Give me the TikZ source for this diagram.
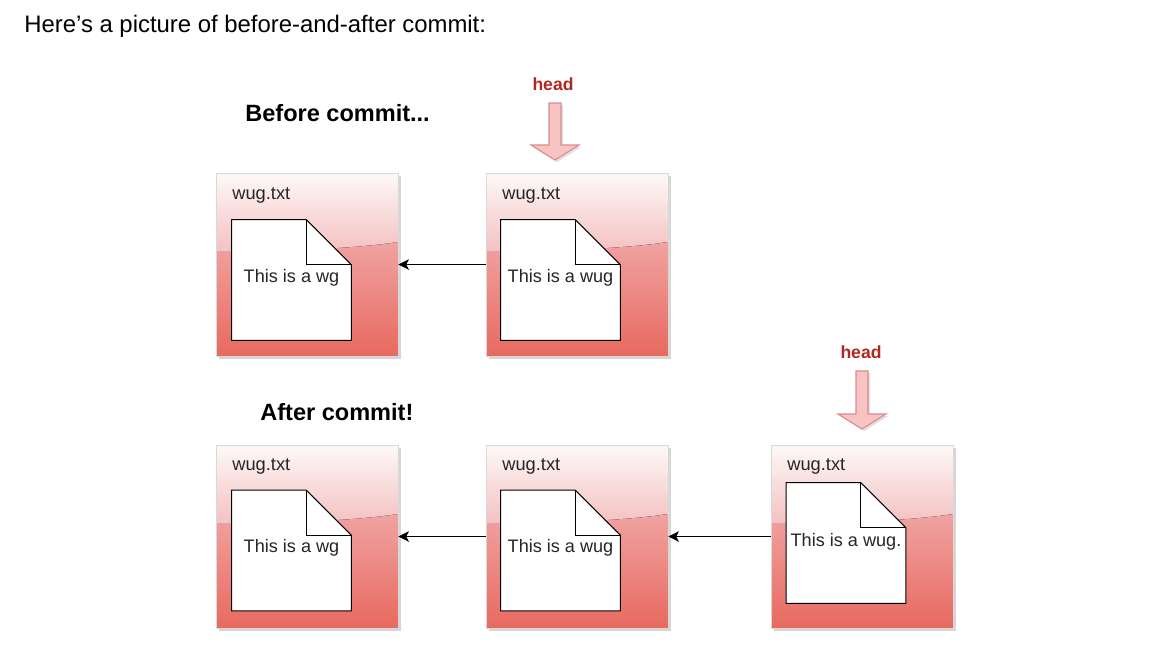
\documentclass[tikz,border=0pt]{standalone}
\usepackage{fontspec}
\setmainfont{Liberation Sans}
\usepackage{tikz}
\usetikzlibrary{calc, positioning, arrows.meta, shadows}
\definecolor{boxtop}{HTML}{FEF8F8}
\definecolor{boxmid}{HTML}{F4C0C0}
\definecolor{boxlow}{HTML}{F0A3A1}
\definecolor{boxbot}{HTML}{E8695F}
\definecolor{headred}{HTML}{B3261E}
\definecolor{headfill}{HTML}{F7C3C3}
\definecolor{headline}{HTML}{D98C8C}

% page with a folded corner, drawn over an empty node
\newcommand{\docpage}[1]{%
	\filldraw[fill=white, draw=black, semithick] (#1.north west) -- ([xshift=-0.9cm]#1.north east)
		-- ([yshift=-0.9cm]#1.north east) -- (#1.south east) -- (#1.south west) -- cycle;
	\draw[semithick] ([xshift=-0.9cm]#1.north east) |- ([yshift=-0.9cm]#1.north east);
}

\begin{document}
\begin{tikzpicture}[x=0.02cm, y=-0.02cm,
		commit/.style={rectangle, draw=black!15, inner sep=0pt,
			minimum width=3.64cm, minimum height=3.66cm,
			drop shadow={shadow xshift=1.5pt, shadow yshift=-1.5pt, fill=black!40, opacity=0.4},
			path picture={
				\coordinate (pnw) at (path picture bounding box.north west);
				\coordinate (pse) at (path picture bounding box.south east);
				\fill[top color=boxtop, bottom color=boxmid] (pnw) rectangle ([yshift=-1.6cm]pnw -| pse);
				\fill[top color=boxlow, bottom color=boxbot] ([yshift=-1.58cm]pnw)
					.. controls ([xshift=1.6cm,yshift=-1.56cm]pnw) and ([xshift=2.9cm,yshift=-1.5cm]pnw)
					.. ([yshift=-1.38cm]pnw -| pse) -- (pse) -- (pnw |- pse) -- cycle;
			}},
		page/.style={rectangle, draw=none, inner sep=0pt, minimum width=2.38cm, minimum height=2.4cm},
		pagetext/.style={font=\fontsize{10.3}{12}\selectfont, text=black!85},
		fname/.style={anchor=west, inner sep=0pt, font=\fontsize{10.4}{12}\selectfont, text=black!85},
		title/.style={anchor=west, inner sep=0pt, font=\fontsize{13.4}{15}\selectfont\bfseries},
		headlbl/.style={font=\fontsize{10}{12}\selectfont\bfseries, text=headred},
		headarrow/.style={fill=headfill, draw=headline, line width=0.6pt,
			drop shadow={shadow xshift=1.2pt, shadow yshift=-1.2pt, fill=black!40, opacity=0.3}},
		link/.style={-{Stealth[length=6pt, width=6pt, inset=1.5pt]}, line width=0.6pt},
		]
	\useasboundingbox (0,0) rectangle (1160,654);

	\node[anchor=west, inner sep=0pt, font=\fontsize{13.6}{16}\selectfont] (intro) at (24,26) {Here’s a picture of before-and-after commit:};

	% --- Before commit ---
	\node[title] (before) at (245,113) {Before commit...};

	\node[commit] (A) at (307,264.5) {};
	\node[commit] (B) at (577,264.5) {};
	\node[fname] (fA) at (232,195) {wug.txt};
	\node[fname] (fB) at (502,195) {wug.txt};

	\node[page] (docA) at (291.5,280) {};
	\docpage{docA}
	\node[pagetext] (txtA) at ([yshift=-1.16cm]docA.north) {This is a wg};
	\node[page] (docB) at (560.5,280) {};
	\docpage{docB}
	\node[pagetext] (txtB) at ([yshift=-1.16cm]docB.north) {This is a wug};

	\draw[link] (B) -- (A);

	\node[headlbl] (headB) at (553,84) {head};
	\coordinate (tipB) at (555,160);
	\filldraw[headarrow] (tipB) -- ++(-24,-15) -- ++(18,0) -- ++(0,-42) -- ++(12,0) -- ++(0,42) -- ++(18,0) -- cycle;

	% --- After commit ---
	\node[title] (after) at (260,412) {After commit!};

	\node[commit] (C) at (307,536.5) {};
	\node[commit] (D) at (577,536.5) {};
	\node[commit] (E) at (862,536.5) {};
	\node[fname] (fC) at (232,466) {wug.txt};
	\node[fname] (fD) at (502,466) {wug.txt};
	\node[fname] (fE) at (787,466) {wug.txt};

	\node[page] (docC) at (291.5,550.5) {};
	\docpage{docC}
	\node[pagetext] (txtC) at ([yshift=-1.16cm]docC.north) {This is a wg};
	\node[page] (docD) at (560.5,550.5) {};
	\docpage{docD}
	\node[pagetext] (txtD) at ([yshift=-1.16cm]docD.north) {This is a wug};
	\node[page] (docE) at (846,543) {};
	\docpage{docE}
	\node[pagetext] (txtE) at ([yshift=-1.18cm]docE.north) {This is a wug.};

	\draw[link] (D) -- (C);
	\draw[link] (E) -- (D);

	\node[headlbl] (headE) at (861,352) {head};
	\coordinate (tipE) at (862,429);
	\filldraw[headarrow] (tipE) -- ++(-24,-15) -- ++(18,0) -- ++(0,-43) -- ++(12,0) -- ++(0,43) -- ++(18,0) -- cycle;

\end{tikzpicture}
\end{document}
